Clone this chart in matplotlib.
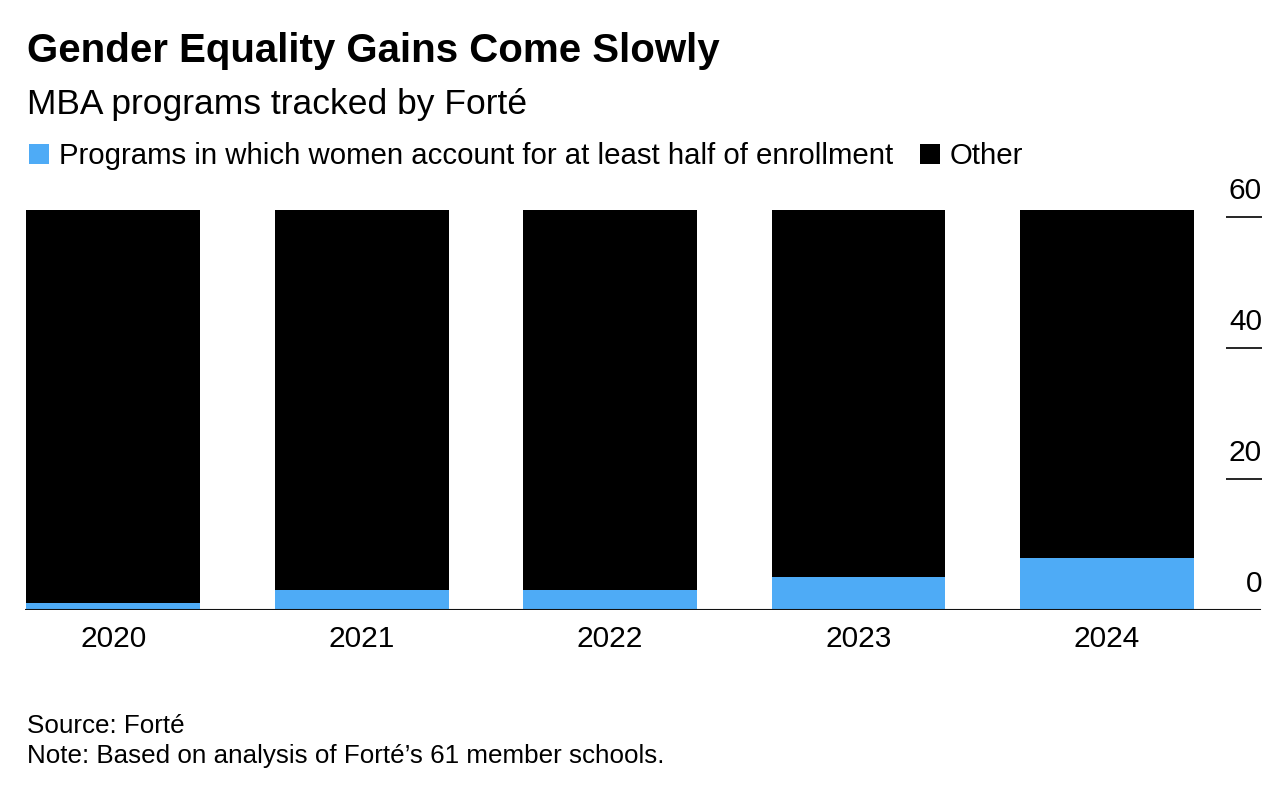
import numpy as np
import matplotlib.pyplot as plt
import matplotlib.transforms as mtransforms

plt.rcParams['font.family'] = ['Liberation Sans', 'DejaVu Sans']

years = ['2020', '2021', '2022', '2023', '2024']
women_half = [1, 3, 3, 5, 8]
total_schools = [61, 61, 61, 61, 61]
other = [t - w for t, w in zip(total_schools, women_half)]
y_ticks = [0, 20, 40, 60]

blue = '#4eabf6'

W, H = 1286, 786
fig = plt.figure(figsize=(W / 100, H / 100), dpi=100)

# axes placement in pixels
ax_left, ax_right = 25, 1262
ax_bottom, px_per_unit = 610, 6.555
ymax = 65
ax = fig.add_axes([ax_left / W, (H - ax_bottom) / H,
                   (ax_right - ax_left) / W, ymax * px_per_unit / H])

x = np.arange(len(years))
width = 0.7
b1 = ax.bar(x, women_half, width, color=blue, linewidth=0,
            label='Programs in which women account for at least half of enrollment')
b2 = ax.bar(x, other, width, bottom=women_half, color='black', linewidth=0,
            label='Other')

ax.set_xlim(-0.355, 4.624)
ax.set_ylim(0, ymax)
for s in ax.spines.values():
    s.set_visible(False)
ax.set_xticks([])
ax.set_yticks([])

ax.axhline(0, color='#111111', lw=1.5, xmax=0.9985, zorder=3)

# short gridline marks on the right with labels above them
ytr = ax.get_yaxis_transform()
for v in y_ticks:
    if v > 0:
        ax.plot([0.971, 1.0], [v, v], transform=ytr, color='black', lw=1.2,
                clip_on=False, solid_capstyle='butt')
    lbl_tr = mtransforms.offset_copy(ytr, fig=fig, x=0, y=18, units='dots')
    ax.text(1.0, v, str(v), transform=lbl_tr, ha='right', va='baseline',
            fontsize=21.5, color='black')

xtr = mtransforms.offset_copy(ax.get_xaxis_transform(), fig=fig, y=-37, units='dots')
for xi, yr in zip(x, years):
    ax.text(xi, 0, yr, transform=xtr, ha='center', va='baseline', fontsize=21.5)

fig.text(27 / W, 1 - 62 / H, 'Gender Equality Gains Come Slowly',
         fontsize=29, fontweight='bold', ha='left', va='baseline')
fig.text(27 / W, 1 - 114 / H, 'MBA programs tracked by Forté',
         fontsize=25.5, ha='left', va='baseline')

fig.legend(handles=[b1, b2], loc='center left', bbox_to_anchor=(29 / W, 1 - 156 / H),
           ncol=2, frameon=False, fontsize=21.2, handlelength=0.68, handleheight=0.68,
           handletextpad=0.34, columnspacing=0.9, borderpad=0, borderaxespad=0)

fig.text(27 / W, 1 - 733 / H, 'Source: Forté', fontsize=18.7, ha='left', va='baseline')
fig.text(27 / W, 1 - 763 / H, 'Note: Based on analysis of Forté’s 61 member schools.',
         fontsize=18.7, ha='left', va='baseline')

fig.savefig('out.png', dpi=100)
